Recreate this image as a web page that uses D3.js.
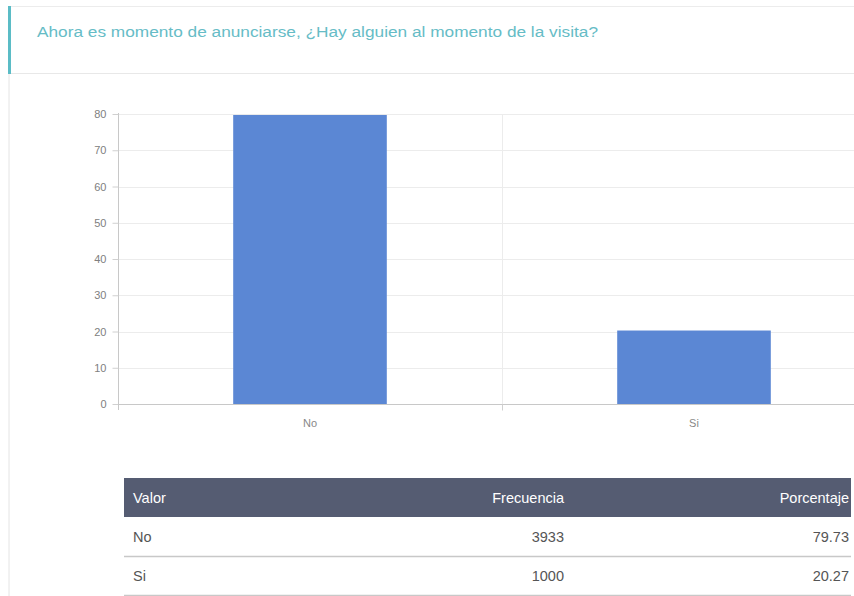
<!DOCTYPE html>
<html>
<head>
<meta charset="utf-8">
<script src="https://cdn.jsdelivr.net/npm/d3@7"></script>
<style>
  html, body { margin: 0; padding: 0; background: #fff; }
  svg { display: block; font-family: "Liberation Sans", Arial, sans-serif; }
</style>
</head>
<body>
<svg id="page" width="854" height="596"></svg>
<script>
// Survey question and answers
const title = "Ahora es momento de anunciarse, ¿Hay alguien al momento de la visita?";
const categories = ["No", "Si"];
const percentages = [79.73, 20.27];
const frequencies = [3933, 1000];
const yTicks = [0, 10, 20, 30, 40, 50, 60, 70, 80];
const tableHeaders = ["Valor", "Frecuencia", "Porcentaje"];

const svg = d3.select("#page");

// Question panel
svg.append("line").attr("x1", 9).attr("x2", 9).attr("y1", 6).attr("y2", 596)
  .attr("stroke", "#e4e4e4").attr("stroke-width", 1);
svg.append("line").attr("x1", 9).attr("x2", 854).attr("y1", 6.5).attr("y2", 6.5)
  .attr("stroke", "#ececec");
svg.append("line").attr("x1", 9).attr("x2", 854).attr("y1", 73.5).attr("y2", 73.5)
  .attr("stroke", "#e8e8e8");
svg.append("rect").attr("x", 8).attr("y", 6).attr("width", 3).attr("height", 68)
  .attr("fill", "#5bbcc6");
svg.append("text").attr("x", 37).attr("y", 37)
  .attr("font-size", 14).attr("fill", "#66bcc6")
  .attr("textLength", 561).attr("lengthAdjust", "spacingAndGlyphs")
  .text(title);

// Bar chart
const x = d3.scaleBand().domain(categories).range([118, 886]).paddingInner(0).paddingOuter(0);
const y = d3.scaleLinear().domain([0, 80]).range([404, 114]);
const barW = x.bandwidth() * 0.4;

const g = svg.append("g");

// horizontal gridlines
g.selectAll(".hgrid").data(yTicks.filter(d => d > 0)).join("line")
  .attr("x1", 118).attr("x2", 854)
  .attr("y1", d => Math.round(y(d)) + 0.5).attr("y2", d => Math.round(y(d)) + 0.5)
  .attr("stroke", "#ececec");
// vertical gridline between categories
g.append("line")
  .attr("x1", x("Si") + 0.5).attr("x2", x("Si") + 0.5)
  .attr("y1", y(80)).attr("y2", y(0))
  .attr("stroke", "#ececec");

// bars
g.selectAll(".bar").data(categories).join("rect")
  .attr("x", d => x(d) + (x.bandwidth() - barW) / 2)
  .attr("width", barW)
  .attr("y", (d, i) => y(percentages[i]))
  .attr("height", (d, i) => y(0) - y(percentages[i]))
  .attr("fill", "#5b87d4");

// y axis
const yAxis = d3.axisLeft(y).tickValues(yTicks).tickSize(6).tickPadding(6);
const ya = svg.append("g").attr("transform", "translate(118.5,0)").call(yAxis);
ya.select(".domain").attr("d", "M0," + (y(80) - 1) + "V410").attr("stroke", "#c8c8c8");
ya.selectAll(".tick line").attr("stroke", "#d0d0d0");
ya.selectAll(".tick text").attr("fill", "#808080").attr("font-size", 11)
  .attr("font-family", "'Liberation Sans', Arial, sans-serif");

// x axis
const xAxis = d3.axisBottom(x).tickSize(0).tickPadding(15);
const xa = svg.append("g").attr("transform", "translate(0,404.5)").call(xAxis);
xa.select(".domain").attr("d", "M118,0H854").attr("stroke", "#c8c8c8");
xa.selectAll(".tick text").attr("fill", "#888").attr("font-size", 11)
  .attr("font-family", "'Liberation Sans', Arial, sans-serif");
xa.append("line").attr("x1", x("Si") + 0.5).attr("x2", x("Si") + 0.5)
  .attr("y1", 0).attr("y2", 6).attr("stroke", "#d0d0d0");

// Frequency table
const tLeft = 124, tRight = 851;
const headerTop = 478, headerH = 39, rowH = 39;
svg.append("rect").attr("x", tLeft).attr("y", headerTop).attr("width", tRight - tLeft)
  .attr("height", headerH).attr("fill", "#555c72");
const colX = [133, 564, 849];
const colAnchor = ["start", "end", "end"];
svg.selectAll(".th").data(tableHeaders).join("text")
  .attr("x", (d, i) => colX[i]).attr("y", headerTop + 25)
  .attr("text-anchor", (d, i) => colAnchor[i])
  .attr("font-size", 14.5).attr("fill", "#fff")
  .text(d => d);

const rows = categories.map((c, i) => [c, String(frequencies[i]), percentages[i].toFixed(2)]);
rows.forEach((r, ri) => {
  const top = headerTop + headerH + ri * rowH;
  svg.selectAll(null).data(r).join("text")
    .attr("x", (d, i) => colX[i]).attr("y", top + 25)
    .attr("text-anchor", (d, i) => colAnchor[i])
    .attr("font-size", 14.5).attr("fill", "#555")
    .text(d => d);
  svg.append("line").attr("x1", tLeft).attr("x2", tRight)
    .attr("y1", top + rowH + 0.5).attr("y2", top + rowH + 0.5)
    .attr("stroke", "#c8c8c8").attr("stroke-width", 1.5);
});
</script>
</body>
</html>
